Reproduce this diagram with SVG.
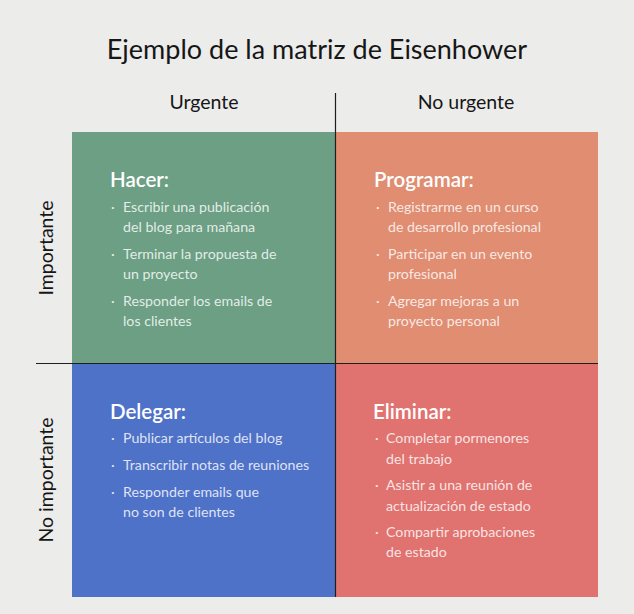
<svg xmlns="http://www.w3.org/2000/svg" width="634" height="614" viewBox="0 0 634 614">
  <style>
    .title { font-family: Lato, "Open Sans", sans-serif; font-size: 27px; fill: #161616; }
    .axis { font-family: Lato, "Open Sans", sans-serif; font-size: 19.5px; fill: #161616; }
    .head { font-family: Lato, "Open Sans", sans-serif; font-size: 20.5px; font-weight: 600; fill: #ffffff; }
    .item { font-family: Lato, "Open Sans", sans-serif; font-size: 14.2px; fill: #ffffff; fill-opacity: 0.82; }
    .rule { stroke: #1e1e1e; stroke-width: 1.2; fill: none; }
  </style>
  <rect width="634" height="614" fill="#ececeb"/>

  <text class="title" x="317" y="59" text-anchor="middle">Ejemplo de la matriz de Eisenhower</text>

  <g id="axis-labels">
    <text class="axis" x="204" y="109" text-anchor="middle">Urgente</text>
    <text class="axis" x="466" y="109" text-anchor="middle">No urgente</text>
    <text class="axis" transform="translate(53,248) rotate(-90)" text-anchor="middle">Importante</text>
    <text class="axis" transform="translate(53,480) rotate(-90)" text-anchor="middle">No importante</text>
  </g>

  <g id="hacer">
    <rect x="72" y="132" width="264" height="231" fill="#6c9f84"/>
    <text class="head" x="110" y="187">Hacer:</text>
    <text class="item" x="111" y="212">·</text>
    <text class="item" x="123" y="212">Escribir una publicación</text>
    <text class="item" x="123" y="232">del blog para mañana</text>
    <text class="item" x="111" y="259">·</text>
    <text class="item" x="123" y="259">Terminar la propuesta de</text>
    <text class="item" x="123" y="279">un proyecto</text>
    <text class="item" x="111" y="306">·</text>
    <text class="item" x="123" y="306">Responder los emails de</text>
    <text class="item" x="123" y="326">los clientes</text>
  </g>

  <g id="programar">
    <rect x="336" y="132" width="262" height="231" fill="#e08d72"/>
    <text class="head" x="374" y="187">Programar:</text>
    <text class="item" x="376" y="212">·</text>
    <text class="item" x="388" y="212">Registrarme en un curso</text>
    <text class="item" x="388" y="232">de desarrollo profesional</text>
    <text class="item" x="376" y="259">·</text>
    <text class="item" x="388" y="259">Participar en un evento</text>
    <text class="item" x="388" y="279">profesional</text>
    <text class="item" x="376" y="306">·</text>
    <text class="item" x="388" y="306">Agregar mejoras a un</text>
    <text class="item" x="388" y="326">proyecto personal</text>
  </g>

  <g id="delegar">
    <rect x="72" y="363" width="264" height="234" fill="#4f72c9"/>
    <text class="head" x="110" y="419">Delegar:</text>
    <text class="item" x="111" y="443">·</text>
    <text class="item" x="123" y="443">Publicar artículos del blog</text>
    <text class="item" x="111" y="470">·</text>
    <text class="item" x="123" y="470">Transcribir notas de reuniones</text>
    <text class="item" x="111" y="497">·</text>
    <text class="item" x="123" y="497">Responder emails que</text>
    <text class="item" x="123" y="517">no son de clientes</text>
  </g>

  <g id="eliminar">
    <rect x="336" y="363" width="262" height="234" fill="#e07370"/>
    <text class="head" x="373" y="419">Eliminar:</text>
    <text class="item" x="375" y="443">·</text>
    <text class="item" x="386" y="443">Completar pormenores</text>
    <text class="item" x="386" y="464">del trabajo</text>
    <text class="item" x="375" y="490">·</text>
    <text class="item" x="386" y="490">Asistir a una reunión de</text>
    <text class="item" x="386" y="511">actualización de estado</text>
    <text class="item" x="375" y="537">·</text>
    <text class="item" x="386" y="537">Compartir aprobaciones</text>
    <text class="item" x="386" y="557">de estado</text>
  </g>

  <g id="connectors">
    <line class="rule" x1="335.5" y1="93" x2="335.5" y2="597"/>
    <line class="rule" x1="36" y1="363.5" x2="598" y2="363.5"/>
  </g>
</svg>
